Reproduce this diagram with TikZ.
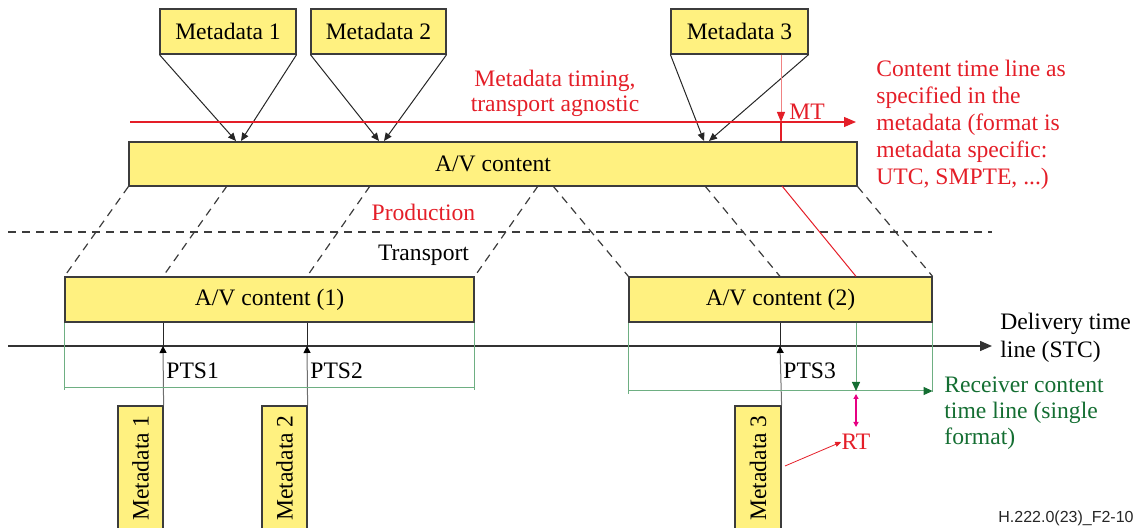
\documentclass[tikz,border=0pt]{standalone}
\usepackage{fontspec}
\setmainfont{Liberation Serif}
\newfontfamily\footfont{Liberation Sans}
\usetikzlibrary{arrows.meta}
\definecolor{avyellow}{RGB}{255,241,128}
\definecolor{boxgray}{RGB}{60,60,60}
\definecolor{redc}{RGB}{228,30,40}
\definecolor{lightred}{RGB}{240,130,130}
\definecolor{grntext}{RGB}{20,110,50}
\definecolor{grnline}{RGB}{110,175,130}
\definecolor{magc}{RGB}{230,0,130}
\definecolor{dashgray}{RGB}{60,60,60}
\definecolor{graylin}{RGB}{110,110,110}
\begin{document}
\begin{tikzpicture}[x=0.5pt,y=-0.5pt,
  mainfont/.style={font=\fontsize{11.8}{13}\selectfont},
  box/.style={draw=boxgray, fill=avyellow, line width=0.6pt, inner sep=0pt, mainfont},
  vbox/.style={box, rotate=90},
  lbl/.style={inner sep=0pt, mainfont, yshift=-1pt},
  blk/.style={line width=0.5pt, draw=black!85},
  dsh/.style={dashed, dash pattern=on 4pt off 3pt, line width=0.6pt, draw=dashgray},
  grn/.style={line width=0.5pt, draw=grnline},
  tipB/.style={-{Triangle[length=4pt,width=3.5pt]}},
  tipS/.style={-{Triangle[length=3.5pt,width=3.5pt,color=black]}},
  tipG/.style={-{Triangle[length=4.5pt,width=4pt,color=grntext]}}
]
\useasboundingbox (0,0) rectangle (1141,528);
\clip (0,0) rectangle (1141,528);

% boxes
\node[box, minimum width=68pt, minimum height=22.5pt] (m1) at (228,31.5) {Metadata 1};
\node[box, minimum width=67.5pt, minimum height=22.5pt] (m2) at (378.5,31.5) {Metadata 2};
\node[box, minimum width=68.5pt, minimum height=22.5pt] (m3) at (739.5,31.5) {Metadata 3};
\node[box, minimum width=364pt, minimum height=22pt] (av) at (493,164) {A/V content};
\node[box, minimum width=204.5pt, minimum height=22.5pt] (av1) at (269.5,299.5) {A/V content (1)};
\node[box, minimum width=151.5pt, minimum height=22.5pt] (av2) at (780.5,299.5) {A/V content (2)};
\node[vbox, minimum width=62pt, minimum height=22.5pt] (v1) at (140.5,468) {Metadata 1};
\node[vbox, minimum width=62pt, minimum height=22.5pt] (v2) at (284.5,468) {Metadata 2};
\node[vbox, minimum width=62pt, minimum height=23pt] (v3) at (758,468) {Metadata 3};

% coordinates
\coordinate (a1l) at (236,141); \coordinate (a1r) at (241,141);
\coordinate (a2l) at (379,141); \coordinate (a2r) at (384,141);
\coordinate (a3l) at (704,141); \coordinate (a3r) at (709,141);
\coordinate (rl0) at (130,122); \coordinate (rl1) at (856,122);
\coordinate (mt) at (781,122);
\coordinate (dl0) at (8,232); \coordinate (dl1) at (992,232);
\coordinate (s1) at (227,186); \coordinate (s2) at (370,186);
\coordinate (s3) at (538,186); \coordinate (s4) at (553,186);
\coordinate (s5) at (705,186); \coordinate (s6) at (782,186);
\coordinate (pts1) at (163,346); \coordinate (pts2) at (307,346); \coordinate (pts3) at (780,346);
\coordinate (d0) at (8,346); \coordinate (d1) at (992,346);
\coordinate (rt) at (856,391);
\coordinate (rt1) at (856,394); \coordinate (rt2) at (856,427);
\coordinate (rtsrc) at (785,466);

% metadata arrows
\draw[blk, tipB] (m1.south west) -- (a1l);
\draw[blk, tipB] (m1.south east) -- (a1r);
\draw[blk, tipB] (m2.south west) -- (a2l);
\draw[blk, tipB] (m2.south east) -- (a2r);
\draw[blk, tipB] (m3.south west) -- (a3l);
\draw[blk, tipB] (m3.south east) -- (a3r);

% metadata timing line
\draw[redc, line width=0.6pt, -{Triangle[length=6pt,width=5pt]}] (rl0) -- (rl1);
\draw[lightred, line width=0.5pt, -{Triangle[length=5pt,width=4pt,color=redc]}] (m3.south -| mt) -- (mt);
\draw[redc, line width=0.6pt] (mt) -- (av.north -| mt);

% production / transport
\draw[dsh] (dl0) -- (dl1);
\draw[dsh] (av.south west) -- (av1.north west);
\draw[dsh] (s1) -- (av1.north -| pts1);
\draw[dsh] (s2) -- (av1.north -| pts2);
\draw[dsh] (s3) -- (av1.north east);
\draw[dsh] (s4) -- (av2.north west);
\draw[dsh] (s5) -- (av2.north -| pts3);
\draw[redc, line width=0.5pt] (s6) -- (av2.north -| rt);
\draw[dsh] (av.south east) -- (av2.north east);

% delivery time line
\draw[line width=0.7pt, draw=black!80, -{Triangle[length=6pt,width=5pt]}] (d0) -- (d1);
\draw[blk] (av1.south -| pts1) -- (pts1);
\draw[blk] (av1.south -| pts2) -- (pts2);
\draw[blk] (av2.south -| pts3) -- (pts3);
\draw[line width=0.5pt, draw=graylin, tipS] (v1.south east) -- (pts1);
\draw[line width=0.5pt, draw=graylin, tipS] (v2.south east) -- (pts2);
\draw[line width=0.5pt, draw=graylin, tipS] (v3.south east) -- (pts3);

% green brackets
\draw[grn] (av1.south west) -- ++(0,67);
\draw[grn] (av1.south east) -- ++(0,67);
\draw[grn] ([yshift=-32.5pt]av1.south west) -- ([yshift=-32.5pt]av1.south east);
\draw[grn] (av2.south west) -- ++(0,71);
\draw[grn] (av2.south east) -- ++(0,69);
\draw[grn, tipG] (av2.south west |- rt) -- (av2.south east |- rt);
\draw[grn, tipG] (av2.south -| rt) -- (rt);

% RT
\draw[magc, line width=0.6pt, {Triangle[length=2.5pt,width=2.5pt]}-{Triangle[length=2.5pt,width=2.5pt]}] (rt1) -- (rt2);
\node[lbl, text=redc] (rtl) at (856,440) {RT};
\draw[redc, line width=0.4pt, -{Triangle[length=3pt,width=2.5pt]}] (rtsrc) -- (rtl.west);

% labels
\node[lbl, text=redc, align=center, font=\fontsize{11.8}{12.5}\selectfont] (mtt) at (555,91.5) {Metadata timing,\\transport agnostic};
\node[lbl, text=redc, anchor=west, align=left, font=\fontsize{11.8}{13.5}\selectfont] (ctl) at (876,122.5) {Content time line as\\specified in the\\metadata (format is\\metadata specific:\\UTC, SMPTE, ...)};
\node[lbl, text=redc, anchor=west] (mtl) at (789,110) {MT};
\node[lbl, text=redc] (prod) at (423.5,210) {Production};
\node[lbl] (trans) at (423.5,253) {Transport};
\node[lbl, anchor=west, align=left, font=\fontsize{11.8}{14}\selectfont] (dtl) at (1000,335.5) {Delivery time\\line (STC)};
\node[lbl, anchor=west] (p1l) at (166,369) {PTS1};
\node[lbl, anchor=west] (p2l) at (310,369) {PTS2};
\node[lbl, anchor=west] (p3l) at (783,369) {PTS3};
\node[lbl, text=grntext, anchor=west, align=left, font=\fontsize{11.8}{13}\selectfont] (rcv) at (944,411.5) {Receiver content\\time line (single\\format)};
\node[inner sep=0pt, anchor=west, font=\footfont\fontsize{8}{9}\selectfont, text=black!85] (fig) at (998,518) {H.222.0(23)\_F2-10};
\end{tikzpicture}
\end{document}
